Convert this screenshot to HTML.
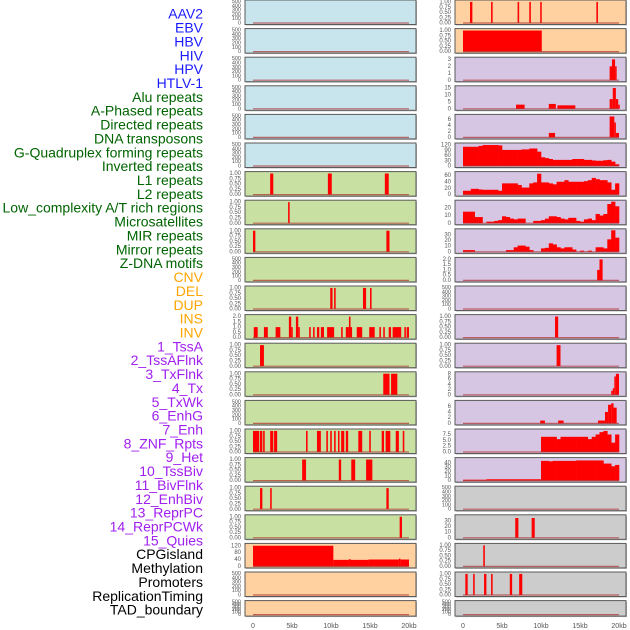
<!DOCTYPE html>
<html><head><meta charset="utf-8"><style>
html,body{margin:0;padding:0;background:#fff;}
svg{display:block;font-family:"Liberation Sans",sans-serif;}
</style></head><body>
<svg id="chart" width="630" height="630" viewBox="0 0 630 630"></svg>
<script>
// ---- data (kb intervals [start,end,value] or 0.5kb bins) ----
const trackLabels=["AAV2","EBV","HBV","HIV","HPV","HTLV-1","Alu repeats","A-Phased repeats","Directed repeats","DNA transposons","G-Quadruplex forming repeats","Inverted repeats","L1 repeats","L2 repeats","Low_complexity A/T rich regions","Microsatellites","MIR repeats","Mirror repeats","Z-DNA motifs","CNV","DEL","DUP","INS","INV","1_TssA","2_TssAFlnk","3_TxFlnk","4_Tx","5_TxWk","6_EnhG","7_Enh","8_ZNF_Rpts","9_Het","10_TssBiv","11_BivFlnk","12_EnhBiv","13_ReprPC","14_ReprPCWk","15_Quies","CPGisland","Methylation","Promoters","ReplicationTiming","TAD_boundary"];
const xTickLabels=["0","5kb","10kb","15kb","20kb"];
const xTickValues=[0,5,10,15,20];
const ticks500=[0,100,200,300,400,500];
const ticks1=[0,0.25,0.5,0.75,1];

const L6=[[2.2,2.6,1],[9.6,10.1,1],[16.9,17.4,1]];
const L7=[[4.5,4.7,1]];
const L8=[[0,0.3,1],[17.1,17.5,1]];
const L10=[[9.9,10.2,1],[10.4,10.6,1],[14.1,14.5,1],[15.0,15.2,1]];
const L11=[[0.1,0.6,1],[1.4,1.9,1],[2.9,3.5,1],[4.6,4.9,2],[4.9,5.1,1],[5.5,5.8,2],[5.8,6.0,1],[7.2,7.4,1],[7.7,7.9,1],[8.2,8.5,1],[8.7,9.1,1],[9.5,10.4,1],[11.3,11.5,1],[11.9,12.3,1],[12.3,12.5,2],[12.5,12.7,1],[13.3,14.0,1],[14.9,15.6,1],[16.2,16.4,1],[16.7,16.9,1],[17.4,17.7,1],[17.9,19.0,1],[19.4,19.6,1],[19.7,20.0,1]];
const L12=[[0.9,1.4,1]];
const L13=[[16.7,17.5,1],[17.7,18.5,1]];
const L15=[[0,0.8,1],[0.9,1.2,1],[1.3,1.5,1],[2.2,2.6,1],[2.7,3.1,1],[6.8,7.0,1],[8.2,8.7,1],[9.4,9.6,1],[9.9,10.1,1],[10.4,10.6,1],[10.9,11.0,1],[11.3,11.7,1],[11.9,12.2,1],[13.5,14.0,1],[14.9,15.1,1],[16.5,16.8,1],[17.0,17.6,1],[18.3,18.7,1],[19.2,19.4,1]];
const L16=[[6.3,6.8,1],[11.0,11.3,1],[12.6,13.1,1],[14.5,15.3,1]];
const L17=[[0.9,1.2,1],[2.2,2.4,1],[17.1,17.4,1]];
const L18=[[18.8,19.1,1]];
const L19=[[0,10.3,120],[10.3,12.3,38],[12.3,12.5,42],[12.5,14.8,38],[14.8,18.7,40],[18.7,18.9,45],[18.9,20.0,40]];

const R0=[[0.9,1.2,1],[3.6,3.8,1],[7.0,7.2,1],[8.5,8.7,1],[9.9,10.0,1],[17.1,17.3,1]];
const R1=[[0,10.1,1]];
const R2=[[18.8,19.1,2],[19.1,19.5,3],[19.5,19.7,2]];
const R3=[[6.8,7.9,3],[11.0,11.9,3.5],[12.1,14.4,2.5],[18.8,19.2,7],[19.2,19.6,15],[19.6,19.9,7],[19.9,20.1,3]];
const R4=[[11.0,11.8,1.5],[18.8,19.4,7],[19.4,19.6,5],[19.6,20.0,1.5]];
const R5=[110,110,110,110,115,120,120,120,120,118,92,92,92,92,92,95,95,100,100,82,50,45,40,35,35,35,35,35,40,40,40,35,35,32,30,30,33,35,25,10];
const R6=[12,12,18,18,16,15,15,15,15,12,35,35,35,35,30,22,22,35,38,65,38,38,35,32,40,40,45,40,40,40,40,42,45,52,48,45,45,38,15,35];
const R7=[15,15,15,8,8,0,2,2,3,4,9,8,6,5,6,6,0,0,3,3,4,6,9,9,8,6,5,7,7,3,2,5,6,4,12,10,12,25,28,22];
const R8=[3,3,3,0,0,0,0,0,0,0,0,3,3,8,11,11,9,3,0,0,6,7,15,13,8,6,8,8,4,0,2,0,2,0,8,8,6,22,38,25];
const R9=[[17.2,17.5,1],[17.5,17.9,2]];
const R11=[[11.8,12.2,1]];
const R12=[[12.0,12.5,1]];
const R13=[[19.0,19.2,1.5],[19.2,19.4,2.5],[19.4,19.6,7],[19.6,20.0,8]];
const R14=[[9.9,10.5,1],[12.2,12.9,1],[17.3,18.2,1],[18.2,18.6,4],[18.6,19.0,6.5],[19.0,19.3,7],[19.3,19.7,5.5]];
const R15=[0,0,0,0,0,0,0,0,0,0,0,0,0,0,0,0,0,0,0,0,6.5,6.5,6.5,6.5,5.5,6.5,6.5,6.5,6.5,6.5,6.5,6.5,5.5,6.5,7.5,8.5,9,7.5,4,7.5];
const R16=[2,2,2,2,2,2,3,3,3,3,3,3,3,3,3,3,3,3,3,3,44,44,43,44,44,44,44,44,44,45,45,45,45,45,45,45,38,38,32,35];
const R18=[[6.7,7.1,35],[8.8,9.2,35]];
const R19=[[2.6,2.8,1]];
const R20=[[0.3,0.6,1],[1.3,1.5,1],[2.7,3.0,1],[3.6,3.8,1],[6.0,6.3,1],[7.2,7.6,1]];

const BLUE="#c8e4ec",GREEN="#c8e0a2",ORANGE="#ffd0a0",PURPLE="#d6c6e4",GREY="#cccccc";
const panels=[
 {c:0,r:0,bg:BLUE,t:ticks500,m:500},{c:0,r:1,bg:BLUE,t:ticks500,m:500},{c:0,r:2,bg:BLUE,t:ticks500,m:500},
 {c:0,r:3,bg:BLUE,t:ticks500,m:500},{c:0,r:4,bg:BLUE,t:ticks500,m:500},{c:0,r:5,bg:BLUE,t:ticks500,m:500},
 {c:0,r:6,bg:GREEN,t:ticks1,m:1.02,s:L6},{c:0,r:7,bg:GREEN,t:ticks1,m:1.02,s:L7},{c:0,r:8,bg:GREEN,t:ticks1,m:1.02,s:L8},
 {c:0,r:9,bg:GREEN,t:ticks500,m:500},{c:0,r:10,bg:GREEN,t:ticks1,m:1.02,s:L10},
 {c:0,r:11,bg:GREEN,t:[0,0.5,1,1.5,2],m:2.05,s:L11,f:1},{c:0,r:12,bg:GREEN,t:ticks1,m:1.02,s:L12},
 {c:0,r:13,bg:GREEN,t:ticks1,m:1.02,s:L13},{c:0,r:14,bg:GREEN,t:ticks500,m:500},
 {c:0,r:15,bg:GREEN,t:ticks1,m:1.02,s:L15},{c:0,r:16,bg:GREEN,t:ticks1,m:1.02,s:L16},
 {c:0,r:17,bg:GREEN,t:ticks1,m:1.02,s:L17},{c:0,r:18,bg:GREEN,t:ticks1,m:1.02,s:L18},
 {c:0,r:19,bg:ORANGE,t:[0,40,80,120],m:125,s:L19},{c:0,r:20,bg:ORANGE,t:ticks500,m:500},{c:0,r:21,bg:ORANGE,t:ticks500,m:500},
 {c:1,r:0,bg:ORANGE,t:ticks1,m:1.02,s:R0},{c:1,r:1,bg:ORANGE,t:ticks1,m:1.02,s:R1},
 {c:1,r:2,bg:PURPLE,t:[0,1,2,3],m:3.1,s:R2},{c:1,r:3,bg:PURPLE,t:[0,5,10,15],m:15.5,s:R3},
 {c:1,r:4,bg:PURPLE,t:[0,2,4,6],m:7.2,s:R4},{c:1,r:5,bg:PURPLE,t:[0,30,60,90,120],m:123,b:R5},
 {c:1,r:6,bg:PURPLE,t:[0,20,40,60],m:67,b:R6},{c:1,r:7,bg:PURPLE,t:[0,10,20],m:28,b:R7},
 {c:1,r:8,bg:PURPLE,t:[0,10,20,30],m:38,b:R8},{c:1,r:9,bg:PURPLE,t:[0,0.5,1,1.5,2],m:2.05,s:R9,f:1},
 {c:1,r:10,bg:PURPLE,t:ticks500,m:500},{c:1,r:11,bg:PURPLE,t:ticks1,m:1.02,s:R11},
 {c:1,r:12,bg:PURPLE,t:ticks1,m:1.02,s:R12},{c:1,r:13,bg:PURPLE,t:[0,2,4,6,8],m:8.2,s:R13},
 {c:1,r:14,bg:PURPLE,t:[0,2,4,6],m:7.5,s:R14},{c:1,r:15,bg:PURPLE,t:[0,2.5,5,7.5],m:9.2,b:R15,f:1},
 {c:1,r:16,bg:PURPLE,t:[0,10,20,30,40],m:48,b:R16},{c:1,r:17,bg:GREY,t:ticks500,m:500},
 {c:1,r:18,bg:GREY,t:[0,10,20,30],m:38,s:R18},{c:1,r:19,bg:GREY,t:ticks1,m:1.02,s:R19},
 {c:1,r:20,bg:GREY,t:ticks1,m:1.02,s:R20},{c:1,r:21,bg:GREY,t:ticks500,m:500}
];

const NS="http://www.w3.org/2000/svg";
const svg=document.getElementById('chart');
function mk(tag,attrs,parent){const e=document.createElementNS(NS,tag);for(const k in attrs)e.setAttribute(k,attrs[k]);(parent||svg).appendChild(e);return e;}
const colX=[245,455], zeroX=[253,463], pxPerKb=7.8, panelW=171;
function xScale(c,kb){return zeroX[c]+kb*pxPerKb;}
function panelTop(r){return r*28.6;}
function panelH(r){return r===21?15.5:24.5;}

// labels
trackLabels.forEach((t,i)=>{
  const col=i<6?"#1a1aff":i<19?"#006400":i<24?"#ffa500":i<39?"#a020f0":"#000";
  const e=mk('text',{x:203,y:15+i*13.86,'text-anchor':'end','dominant-baseline':'middle','font-size':14,fill:col});
  e.textContent=t;
  
  
});

panels.forEach(p=>{
  const g=mk('g',{});
  
  
  const top=panelTop(p.r),h=panelH(p.r),x0=colX[p.c];
  mk('rect',{x:x0+1,y:top+1,width:panelW,height:h,fill:'#bbb'},g);
  const bg=mk('rect',{x:x0,y:top,width:panelW,height:h,fill:p.bg,stroke:'#5a5a5a','stroke-width':1},g);
  
  
  const yb=top+h-1.5, yt=top+1.5;
  const ys=v=>yb-(v/p.m)*(yb-yt);
  // ticks
  p.t.forEach(v=>{
    const txt=p.m>=100&&p.t.length===6?String(v):(p.f?v.toFixed(1):(p.m<1.1?v.toFixed(2):String(v)));
    const e=mk('text',{x:x0-4,y:ys(v),'text-anchor':'end','dominant-baseline':'middle','font-size':p.t.length===6&&p.m===500?5.5:6,fill:'#555'},g);
    e.textContent=txt;
    
    
  });
  // segment bars
  (p.s||[]).forEach(d=>{
    const xa=xScale(p.c,d[0]),xb=xScale(p.c,d[1]);
    const b=mk('rect',{x:xa,y:ys(d[2]),width:Math.max(1.5,xb-xa),height:yb-ys(d[2]),fill:'#ff0000'},g);
    
    
  });
  // binned histogram
  (p.b||[]).forEach((v,i)=>{
    if(!v)return;
    const xa=xScale(p.c,i*0.5),xb=xScale(p.c,(i+1)*0.5);
    const b=mk('rect',{x:xa,y:ys(v),width:xb-xa+0.3,height:yb-ys(v),fill:'#ff0000'},g);
    
    
  });
  const bl=mk('line',{x1:xScale(p.c,0),x2:xScale(p.c,20),y1:yb,y2:yb,stroke:'#b03030','stroke-opacity':0.7,'stroke-width':1.2},g);
  
  
});

// x axes
[0,1].forEach(c=>{
  xTickValues.forEach((v,i)=>{
    const e=mk('text',{x:xScale(c,v),y:628,'text-anchor':'middle','font-size':7,fill:'#555'});
    e.textContent=xTickLabels[i];
    
    
  });
});
</script>
</body></html>
